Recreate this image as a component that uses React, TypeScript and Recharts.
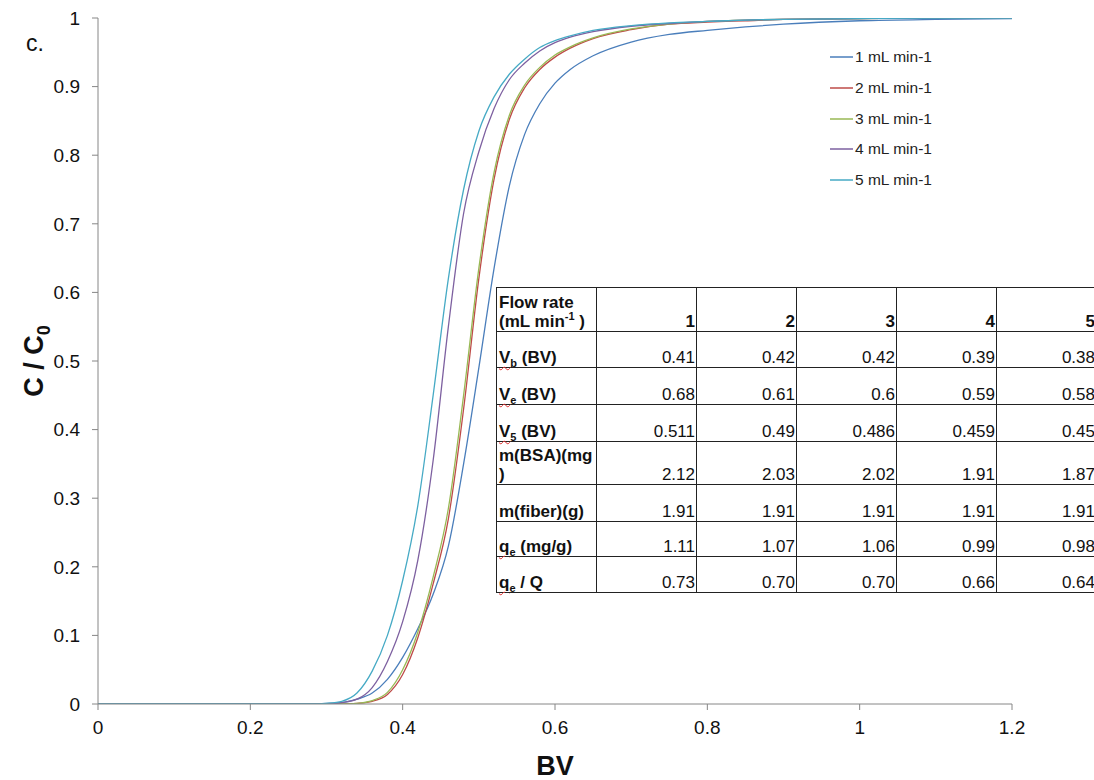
import React from 'react';
import { LineChart, Line, XAxis, YAxis, Label } from 'recharts';

const bv = [0, 0.1, 0.2, 0.28, 0.3, 0.32, 0.34, 0.36, 0.38, 0.4, 0.42, 0.44, 0.46, 0.48, 0.5, 0.52, 0.54, 0.56, 0.58, 0.6, 0.62, 0.65, 0.7, 0.75, 0.8, 0.85, 0.9, 1.0, 1.1, 1.2];
const flow1 = [0, 0, 0, 0, 0.001, 0.002, 0.007, 0.016, 0.036, 0.068, 0.11, 0.16, 0.23, 0.35, 0.49, 0.635, 0.755, 0.83, 0.875, 0.905, 0.925, 0.945, 0.965, 0.976, 0.982, 0.987, 0.991, 0.996, 0.998, 0.999];
const flow2 = [0, 0, 0, 0, 0, 0, 0.001, 0.004, 0.014, 0.043, 0.097, 0.175, 0.27, 0.43, 0.62, 0.765, 0.852, 0.898, 0.925, 0.943, 0.956, 0.97, 0.983, 0.991, 0.994, 0.996, 0.998, 0.999, 1, 1];
const flow3 = [0, 0, 0, 0, 0, 0, 0.001, 0.005, 0.017, 0.05, 0.105, 0.185, 0.285, 0.45, 0.635, 0.775, 0.858, 0.902, 0.928, 0.946, 0.958, 0.971, 0.984, 0.991, 0.995, 0.997, 0.998, 0.999, 1, 1];
const flow4 = [0, 0, 0, 0, 0, 0.002, 0.007, 0.024, 0.062, 0.12, 0.21, 0.355, 0.55, 0.715, 0.805, 0.868, 0.91, 0.934, 0.952, 0.964, 0.972, 0.98, 0.988, 0.992, 0.995, 0.997, 0.998, 0.999, 1, 1];
const flow5 = [0, 0, 0, 0, 0.001, 0.004, 0.016, 0.048, 0.1, 0.18, 0.29, 0.45, 0.62, 0.75, 0.835, 0.885, 0.918, 0.94, 0.957, 0.967, 0.974, 0.982, 0.989, 0.993, 0.995, 0.997, 0.998, 0.999, 1, 1];

const seriesKeys = ['f1', 'f2', 'f3', 'f4', 'f5'];
const seriesNames = ['1 mL min-1', '2 mL min-1', '3 mL min-1', '4 mL min-1', '5 mL min-1'];
const seriesColors = ['#4A7EBB', '#BE4B48', '#98B954', '#7D60A0', '#46AAC5'];
const seriesValues = [flow1, flow2, flow3, flow4, flow5];

const xTicks = [0, 0.2, 0.4, 0.6, 0.8, 1, 1.2];
const yTicks = [0, 0.1, 0.2, 0.3, 0.4, 0.5, 0.6, 0.7, 0.8, 0.9, 1];

const flowRates = ['1', '2', '3', '4', '5'];
const vbRow = ['0.41', '0.42', '0.42', '0.39', '0.38'];
const veRow = ['0.68', '0.61', '0.6', '0.59', '0.58'];
const vsRow = ['0.511', '0.49', '0.486', '0.459', '0.45'];
const mBsaRow = ['2.12', '2.03', '2.02', '1.91', '1.87'];
const mFiberRow = ['1.91', '1.91', '1.91', '1.91', '1.91'];
const qeRow = ['1.11', '1.07', '1.06', '0.99', '0.98'];
const qeQRow = ['0.73', '0.70', '0.70', '0.66', '0.64'];

const data = bv.map((x, i) => {
  const row: Record<string, number> = { bv: x };
  seriesKeys.forEach((k, j) => {
    row[k] = seriesValues[j][i];
  });
  return row;
});

const FONT = '"Liberation Sans", Arial, sans-serif';
const fmt = (v: number) => String(Number(v.toFixed(1)));

const squiggle: React.CSSProperties = {
  textDecoration: 'underline wavy #e03030',
  textDecorationThickness: '1px',
  textUnderlineOffset: '3px',
};

const cell: React.CSSProperties = {
  border: '1.6px solid #222',
  padding: '0 1px 0 2px',
  verticalAlign: 'bottom',
  textAlign: 'right',
  fontSize: 17,
  lineHeight: '19px',
  color: '#111',
  whiteSpace: 'nowrap',
};
const labelCell: React.CSSProperties = { ...cell, textAlign: 'left', fontWeight: 'bold' };

const Sym = ({ base, sub }: { base: string; sub: string }) => (
  <span style={squiggle}>
    {base}
    <sub style={{ fontSize: 11, verticalAlign: 'sub', lineHeight: 0 }}>{sub}</sub>
  </span>
);

const rows: { label: React.ReactNode; values: string[]; h: number }[] = [
  { label: <><Sym base="V" sub="b" /> (BV)</>, values: vbRow, h: 36 },
  { label: <><Sym base="V" sub="e" /> (BV)</>, values: veRow, h: 37 },
  { label: <><Sym base="V" sub="5" /> (BV)</>, values: vsRow, h: 37 },
  { label: <>m(BSA)(mg<br />)</>, values: mBsaRow, h: 43 },
  { label: <>m(fiber)(g)</>, values: mFiberRow, h: 37 },
  { label: <><Sym base="q" sub="e" /> (mg/g)</>, values: qeRow, h: 35 },
  { label: <><Sym base="q" sub="e" /> / Q</>, values: qeQRow, h: 36 },
];

const YTitle = (props: any) => {
  const vb = props.viewBox || {};
  const cx = 34;
  const cy = vb.y + vb.height / 2;
  return (
    <text
      x={cx}
      y={cy}
      transform={`rotate(-90 ${cx} ${cy})`}
      textAnchor="middle"
      dominantBaseline="central"
      style={{ fontFamily: FONT, fontSize: 27, fontWeight: 'bold', fill: '#111' }}
    >
      C / C<tspan baselineShift="sub" fontSize={18}>0</tspan>
    </text>
  );
};

const XTitle = (props: any) => {
  const vb = props.viewBox || {};
  const cx = vb.x + vb.width / 2;
  return (
    <text
      x={cx}
      y={775}
      textAnchor="middle"
      style={{ fontFamily: FONT, fontSize: 27, fontWeight: 'bold', fill: '#111' }}
    >
      BV
    </text>
  );
};

export default function App() {
  return (
    <div style={{ position: 'absolute', left: 0, top: 0, width: 1094, height: 780, background: '#fff', fontFamily: FONT }}>
      <LineChart
        width={1094}
        height={780}
        data={data}
        margin={{ top: 18, right: 82, bottom: 36, left: 38 }}
      >
        <XAxis
          dataKey="bv"
          type="number"
          domain={[0, 1.2]}
          ticks={xTicks}
          tickFormatter={fmt}
          height={40}
          tickSize={6}
          tickMargin={11}
          stroke="#868686"
          tick={{ fill: '#111', fontSize: 19, fontFamily: FONT }}
          allowDataOverflow
        >
          <Label content={<XTitle />} />
        </XAxis>
        <YAxis
          type="number"
          domain={[0, 1]}
          ticks={yTicks}
          tickFormatter={fmt}
          width={60}
          tickSize={6}
          tickMargin={12}
          stroke="#868686"
          tick={{ fill: '#111', fontSize: 19, fontFamily: FONT }}
          allowDataOverflow
        >
          <Label content={<YTitle />} />
        </YAxis>
        {seriesKeys.map((k, i) => (
          <Line
            key={k}
            dataKey={k}
            name={seriesNames[i]}
            type="monotone"
            stroke={seriesColors[i]}
            strokeWidth={1.3}
            dot={false}
            isAnimationActive={false}
          />
        ))}
      </LineChart>
      <div style={{ position: 'absolute', left: 830, top: 42, fontSize: 15.5, color: '#222' }}>
        {seriesNames.map((n, i) => (
          <div key={n} style={{ display: 'flex', alignItems: 'center', height: 30.7 }}>
            <svg width={23} height={4} style={{ marginRight: 2 }}>
              <line x1={0} y1={2} x2={23} y2={2} stroke={seriesColors[i]} strokeWidth={1.5} />
            </svg>
            <span>{n}</span>
          </div>
        ))}
      </div>
      <div style={{ position: 'absolute', left: 26, top: 30, fontSize: 23, color: '#111' }}>c.</div>
      <table
        style={{
          position: 'absolute',
          left: 496,
          top: 287,
          width: 598,
          borderCollapse: 'collapse',
          tableLayout: 'fixed',
          fontFamily: FONT,
          background: '#fff',
        }}
      >
        <colgroup>
          <col style={{ width: 100 }} />
          {flowRates.map((f) => (
            <col key={f} style={{ width: 100 }} />
          ))}
        </colgroup>
        <tbody>
          <tr style={{ height: 44 }}>
            <td style={labelCell}>
              Flow rate
              <br />
              (mL min<sup style={{ fontSize: 11, lineHeight: 0 }}>-1</sup> )
            </td>
            {flowRates.map((f) => (
              <td key={f} style={{ ...cell, fontWeight: 'bold' }}>{f}</td>
            ))}
          </tr>
          {rows.map((r, i) => (
            <tr key={i} style={{ height: r.h }}>
              <td style={labelCell}>{r.label}</td>
              {r.values.map((v, j) => (
                <td key={j} style={cell}>{v}</td>
              ))}
            </tr>
          ))}
        </tbody>
      </table>
    </div>
  );
}
